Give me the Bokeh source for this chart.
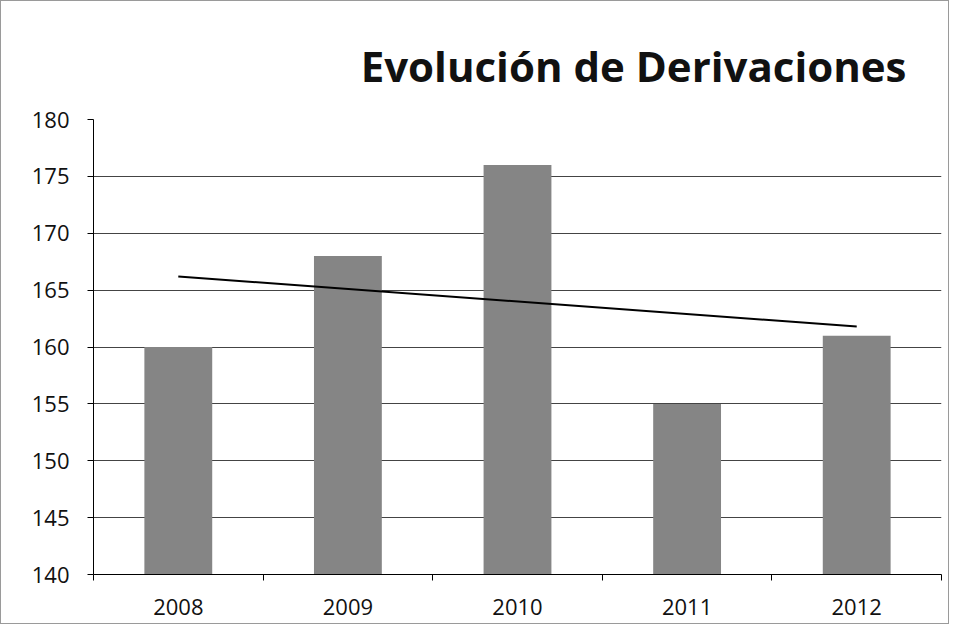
import numpy as np
from bokeh.plotting import figure
from bokeh.models import FixedTicker, Range1d, ColumnDataSource
from bokeh.embed import file_html
from bokeh.resources import INLINE

# Data
years = ["2008", "2009", "2010", "2011", "2012"]
derivaciones = [160, 168, 176, 155, 161]
y_ticks = [140, 145, 150, 155, 160, 165, 170, 175, 180]

xpos = list(range(1, len(years) + 1))
src = ColumnDataSource(dict(x=xpos, top=derivaciones, year=years))

# linear trendline (Excel-style) fitted to the data
slope, intercept = np.polyfit(xpos, derivaciones, 1)
trend_x = [xpos[0], xpos[-1]]
trend_y = [slope * xv + intercept for xv in trend_x]

p = figure(width=949, height=624, output_backend="svg", toolbar_location=None,
           x_range=Range1d(0.5, len(years) + 0.5), y_range=Range1d(140, 180),
           min_border_left=92, min_border_right=9, min_border_top=118, min_border_bottom=51,
           title="Evolución de Derivaciones")
p.styles = {"border": "1px solid #9a9a9a"}

p.title.align = "right"
p.title.offset = 35
p.title.text_font = "Open Sans"
p.title.text_font_style = "bold"
p.title.text_font_size = "42px"
p.title.text_color = "#111111"
p.title.standoff = 52

p.outline_line_color = None
p.background_fill_color = "white"

p.vbar(x="x", top="top", bottom=0, width=0.4, source=src,
       fill_color="#858585", line_color=None)
p.line(trend_x, trend_y, line_color="black", line_width=2)

# axes
p.yaxis.ticker = FixedTicker(ticks=y_ticks)
p.yaxis.minor_tick_line_color = None
p.yaxis.major_tick_out = 6
p.yaxis.major_tick_in = 0
p.yaxis.axis_line_color = "black"
p.yaxis.major_tick_line_color = "black"
p.yaxis.major_label_text_font = "Open Sans"
p.yaxis.major_label_text_font_size = "22px"
p.yaxis.major_label_text_color = "#111111"
p.yaxis.major_label_standoff = 18

p.xaxis.ticker = FixedTicker(ticks=xpos, minor_ticks=[i + 0.5 for i in range(0, len(years) + 1)])
p.xaxis.major_label_overrides = {xv: yr for xv, yr in zip(xpos, years)}
p.xaxis.major_tick_line_color = None
p.xaxis.minor_tick_line_color = "black"
p.xaxis.minor_tick_out = 6
p.xaxis.minor_tick_in = 0
p.xaxis.axis_line_color = "black"
p.xaxis.major_label_text_font = "Open Sans"
p.xaxis.major_label_text_font_size = "22px"
p.xaxis.major_label_text_color = "#111111"
p.xaxis.major_label_standoff = 18

p.xgrid.grid_line_color = None
p.ygrid.ticker = FixedTicker(ticks=y_ticks)
p.ygrid.grid_line_color = "#444444"
p.ygrid.grid_line_width = 1

open("out.html", "w").write(file_html(p, INLINE))
